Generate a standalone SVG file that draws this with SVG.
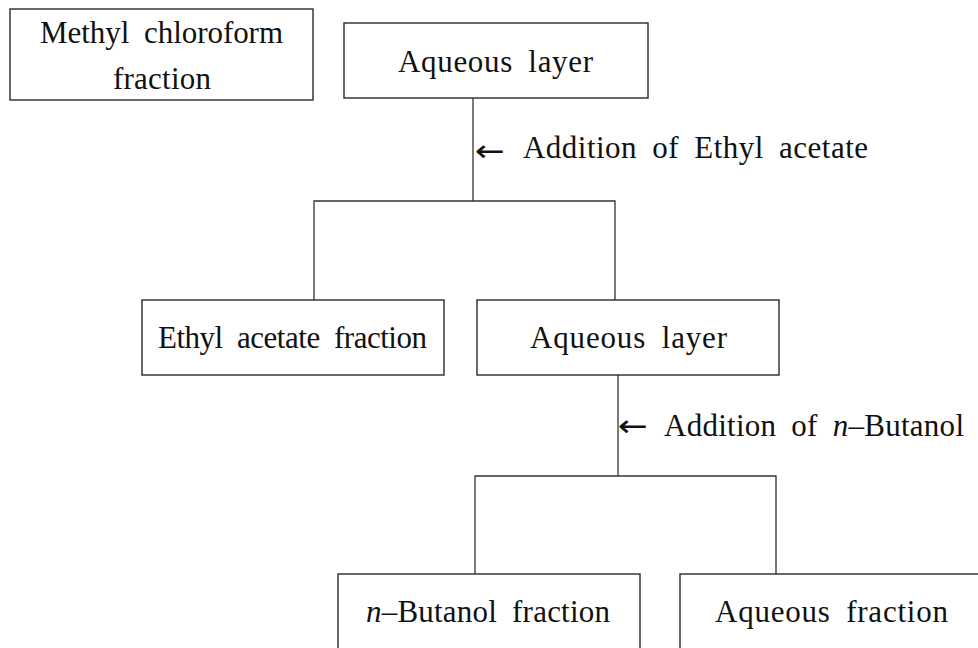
<svg xmlns="http://www.w3.org/2000/svg" width="978" height="648" viewBox="0 0 978 648">
<style>
.box{fill:#fff;stroke:#2a2a2a;stroke-width:1.4}
.ln{fill:none;stroke:#333;stroke-width:1.3}
text{font-family:"Liberation Serif","Times New Roman",serif;font-size:31px;fill:#111;word-spacing:7px}
.arr{font-family:"DejaVu Sans",sans-serif;font-size:30px;word-spacing:0}
</style>
<rect width="978" height="648" fill="#fff"/>
<g id="connectors">
<line class="ln" x1="473" y1="98" x2="473" y2="201"/>
<polyline class="ln" points="314,300 314,201 615,201 615,300"/>
<line class="ln" x1="618" y1="375" x2="618" y2="476"/>
<polyline class="ln" points="475,574 475,476 776,476 776,574"/>
</g>
<g id="label1"><text class="arr" x="475" y="161" textLength="30" lengthAdjust="spacingAndGlyphs">←</text><text x="523" y="158" textLength="345" lengthAdjust="spacing">Addition of Ethyl acetate</text></g>
<g id="label2"><text class="arr" x="618" y="436" textLength="30" lengthAdjust="spacingAndGlyphs">←</text><text x="664" y="436" textLength="300" lengthAdjust="spacing">Addition of <tspan font-style="italic">n</tspan>–Butanol</text></g>
<g id="methyl"><rect class="box" x="10" y="9" width="303" height="91"/><text x="40" y="43" textLength="243" lengthAdjust="spacing">Methyl chloroform</text><text x="113" y="89" textLength="98" lengthAdjust="spacing">fraction</text></g>
<g id="aq1"><rect class="box" x="344" y="23" width="304" height="75"/><text x="398" y="72" textLength="195" lengthAdjust="spacing">Aqueous layer</text></g>
<g id="ethyl"><rect class="box" x="142" y="300" width="302" height="75"/><text x="158" y="348" textLength="269" lengthAdjust="spacing">Ethyl acetate fraction</text></g>
<g id="aq2"><rect class="box" x="477" y="300" width="302" height="75"/><text x="530" y="348" textLength="197" lengthAdjust="spacing">Aqueous layer</text></g>
<g id="butanol"><rect class="box" x="338" y="574" width="302" height="90"/><text x="366" y="622" textLength="244" lengthAdjust="spacing"><tspan font-style="italic">n</tspan>–Butanol fraction</text></g>
<g id="aqf"><rect class="box" x="680" y="574" width="320" height="90"/><text x="715" y="622" textLength="233" lengthAdjust="spacing">Aqueous fraction</text></g>
</svg>
